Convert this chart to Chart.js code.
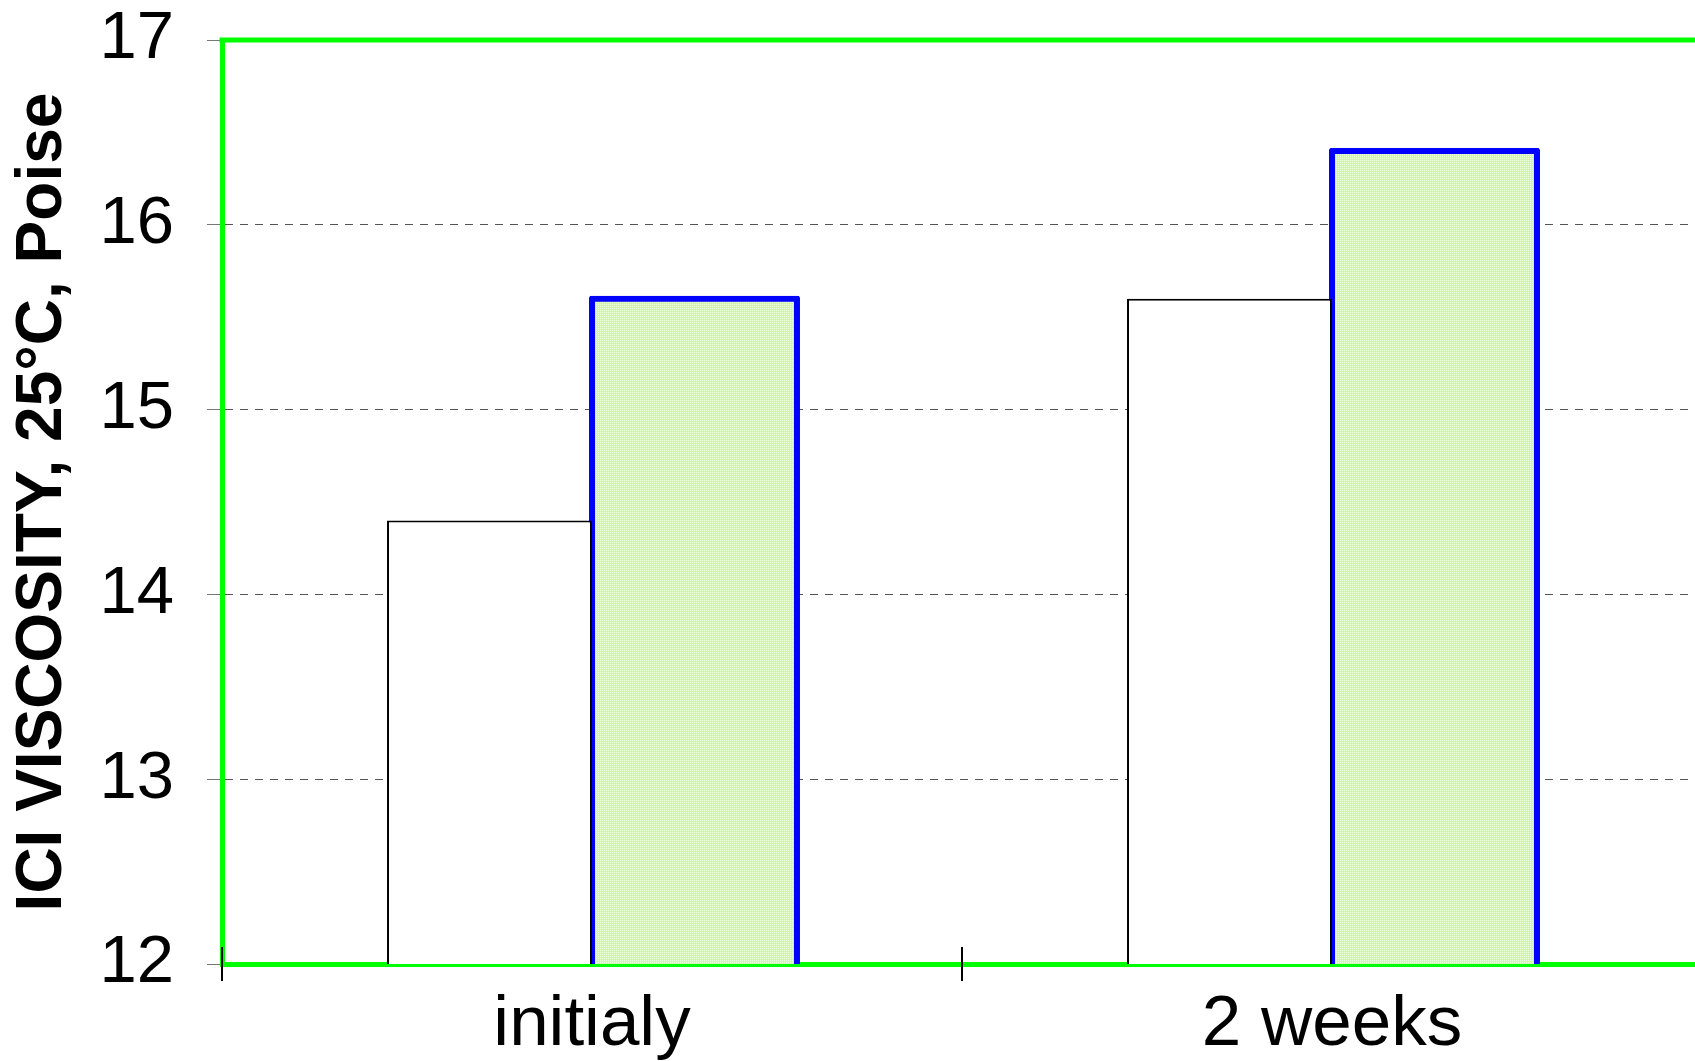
<!DOCTYPE html>
<html>
<head>
<meta charset="utf-8">
<script src="https://cdn.jsdelivr.net/npm/chart.js@4"></script>
<style>
  html, body { margin: 0; padding: 0; background: #fff; overflow: hidden; }
  #wrap { width: 1720px; height: 1061px; }
</style>
</head>
<body>
<div id="wrap"><canvas id="c" width="1720" height="1061"></canvas></div>
<script>
const categories = ['initialy', '2 weeks'];
const whiteSeries = [14.4, 15.6];
const greenSeries = [15.6, 16.4];
const yMin = 12;
const yMax = 17;
const yStep = 1;
const yTitle = 'ICI VISCOSITY, 25°C, Poise';

// fine, low-contrast grid pattern for the green bars
const pc = document.createElement('canvas');
pc.width = 2; pc.height = 2;
const pctx = pc.getContext('2d');
pctx.fillStyle = '#d2f4ac';
pctx.fillRect(0, 0, 2, 2);
pctx.fillStyle = '#f2fde6';
pctx.fillRect(0, 0, 1, 1);
const ctx = document.getElementById('c').getContext('2d');
const greenPattern = ctx.createPattern(pc, 'repeat');

const frame = {
  id: 'frame',
  afterDraw(chart) {
    const c = chart.ctx, a = chart.chartArea, xs = chart.scales.x;
    c.save();
    // top green border
    c.strokeStyle = '#00ff00';
    c.lineWidth = 5;
    c.beginPath();
    c.moveTo(a.left - 2.5, a.top);
    c.lineTo(a.right, a.top);
    c.stroke();
    // category boundary ticks crossing the x axis
    c.strokeStyle = '#000';
    c.lineWidth = 2;
    for (let i = 0; i <= categories.length; i++) {
      const x = Math.round(xs.getPixelForValue(i - 0.5));
      c.beginPath();
      c.moveTo(x, a.bottom - 17);
      c.lineTo(x, a.bottom + 17);
      c.stroke();
    }
    c.restore();
  }
};

new Chart(ctx, {
  type: 'bar',
  data: {
    labels: categories,
    datasets: [
      {
        data: whiteSeries,
        backgroundColor: '#ffffff',
        borderColor: '#000000',
        borderWidth: 2,
        borderSkipped: false,
        inflateAmount: 0
      },
      {
        data: greenSeries,
        backgroundColor: greenPattern,
        borderColor: '#0000ff',
        borderWidth: 6,
        borderSkipped: false,
        borderRadius: 2,
        inflateAmount: 3
      }
    ]
  },
  options: {
    responsive: false,
    animation: false,
    events: [],
    layout: { padding: { top: 40, right: 18, left: 0, bottom: 0 } },
    plugins: { legend: { display: false }, tooltip: { enabled: false } },
    datasets: { bar: { categoryPercentage: 0.554, barPercentage: 1.0 } },
    scales: {
      x: {
        afterFit(s) { s.height = 97; s.paddingLeft = 0; s.paddingRight = 0; },
        grid: { display: false },
        border: { display: true, color: '#00ff00', width: 5 },
        ticks: {
          color: '#000',
          padding: 11,
          font: { family: '"Liberation Sans", Arial, sans-serif', size: 71 }
        }
      },
      y: {
        min: yMin,
        max: yMax,
        afterFit(s) { s.width = 222; s.paddingTop = 0; s.paddingBottom = 0; },
        grid: {
          drawOnChartArea: true,
          color: '#555555',
          lineWidth: 1,
          tickLength: 15,
          tickColor: '#777777',
          tickWidth: 1
        },
        border: { display: true, color: '#00ff00', width: 5, dash: [8, 7] },
        ticks: {
          stepSize: yStep,
          color: '#000',
          padding: 33,
          font: { family: '"Liberation Sans", Arial, sans-serif', size: 67 }
        },
        title: {
          display: true,
          text: yTitle,
          color: '#000',
          padding: { top: 5, bottom: 0 },
          font: { family: '"Liberation Sans", Arial, sans-serif', size: 64, weight: 'bold' }
        }
      }
    }
  },
  plugins: [frame]
});
</script>
</body>
</html>
